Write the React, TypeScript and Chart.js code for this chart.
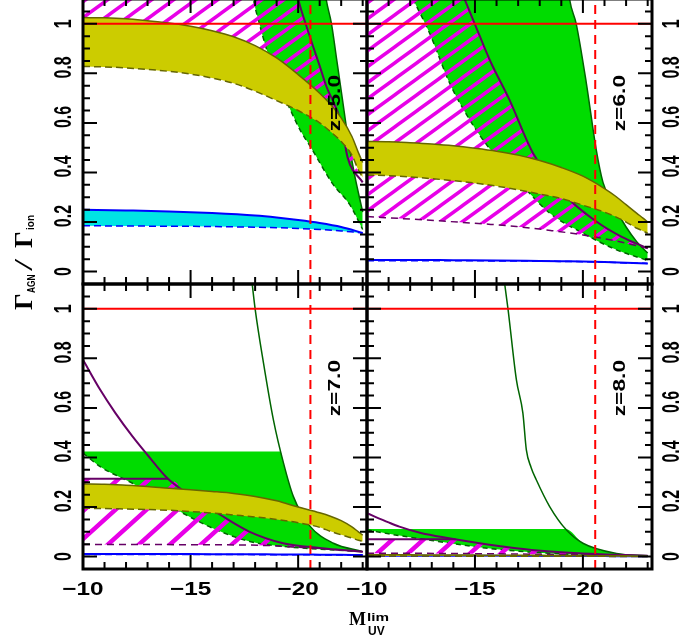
import { useEffect, useRef } from 'react';
import { Chart, registerables } from 'chart.js';

Chart.register(...registerables);

// ---------------- axes ----------------
const X_MIN = -23.2;
const X_MAX = -10;
const Y_MIN = -0.05;
const Y_MAX = 1.1;
const X_MINOR_TICKS = [-10, -11, -12, -13, -14, -15, -16, -17, -18, -19, -20, -21, -22, -23];
const X_MAJOR_TICKS = [-10, -15, -20];
const X_TICK_LABELS = ['\u221210', '\u221215', '\u221220'];
const Y_MINOR_TICKS = [0, 0.05, 0.1, 0.15, 0.2, 0.25, 0.3, 0.35, 0.4, 0.45, 0.5, 0.55, 0.6, 0.65, 0.7, 0.75, 0.8, 0.85, 0.9, 0.95, 1, 1.05];
const Y_MAJOR_TICKS = [0, 0.2, 0.4, 0.6, 0.8, 1];
const Y_TICK_LABELS = ['0', '0.2', '0.4', '0.6', '0.8', '1'];
const REDSHIFT_LABELS = ['z=5.0', 'z=6.0', 'z=7.0', 'z=8.0'];

// reference lines
const UNITY_X = [-10, -23.2];
const UNITY_Y = [1, 1];
const MLIM_X = [-20.57, -20.57];
const MLIM_Y = [-0.05, 1.1];

// ---------------- olive bands ----------------
const BAND_X = [-10, -11, -12, -13, -14, -15, -16, -17, -18, -19, -20, -21, -21.5, -22, -22.5, -22.8, -23];
const Z5_OLIVE_HI = [1.025, 1.024, 1.02, 1.012, 1.003, 0.99, 0.972, 0.948, 0.912, 0.862, 0.795, 0.72, 0.675, 0.62, 0.545, 0.48, 0.44];
const Z5_OLIVE_LO = [0.828, 0.826, 0.822, 0.816, 0.808, 0.797, 0.781, 0.76, 0.728, 0.69, 0.65, 0.6, 0.565, 0.525, 0.47, 0.41, 0.38];
const Z6_OLIVE_HI = [0.525, 0.524, 0.52, 0.515, 0.508, 0.498, 0.486, 0.47, 0.448, 0.42, 0.385, 0.335, 0.305, 0.27, 0.235, 0.215, 0.2];
const Z6_OLIVE_LO = [0.39, 0.387, 0.382, 0.375, 0.367, 0.357, 0.345, 0.33, 0.313, 0.295, 0.268, 0.24, 0.222, 0.2, 0.175, 0.163, 0.155];
const Z7_OLIVE_HI = [0.293, 0.292, 0.288, 0.283, 0.276, 0.27, 0.263, 0.255, 0.243, 0.225, 0.2, 0.177, 0.163, 0.145, 0.12, 0.1, 0.087];
const Z7_OLIVE_LO = [0.195, 0.194, 0.192, 0.19, 0.187, 0.182, 0.176, 0.168, 0.16, 0.15, 0.137, 0.118, 0.102, 0.088, 0.075, 0.066, 0.061];
const Z8_OLIVE_HI = [0.007, 0.007, 0.007, 0.006, 0.006, 0.006, 0.005, 0.005, 0.005, 0.004, 0.004, 0.003, 0.003, 0.003, 0.002, 0.002, 0.002];
const Z8_OLIVE_LO = [0.002, 0.002, 0.002, 0.002, 0.002, 0.001, 0.001, 0.001, 0.001, 0.001, 0.001, 0.001, 0, 0, 0, 0, 0];
const Z5_HATCH_LO = [0.93, 0.925, 0.92, 0.914, 0.905, 0.893, 0.876, 0.854, 0.82, 0.776, 0.72, 0.66, 0.62, 0.57, 0.48, 0.4, 0.36];

// ---------------- blue / cyan bands ----------------
const BLUE_X = [-10, -12, -14, -16, -18, -19, -20, -21, -22, -23];
const Z5_BLUE_HI = [0.25, 0.247, 0.243, 0.236, 0.226, 0.218, 0.208, 0.196, 0.18, 0.156];
const Z5_BLUE_LO = [0.185, 0.184, 0.183, 0.182, 0.179, 0.177, 0.174, 0.17, 0.164, 0.156];
const Z6_BLUE_HI = [0.047, 0.047, 0.046, 0.045, 0.043, 0.042, 0.041, 0.039, 0.036, 0.033];
const Z6_BLUE_LO = [0.044, 0.044, 0.044, 0.043, 0.042, 0.041, 0.04, 0.038, 0.035, 0.033];
const Z7_BLUE_HI = [0.011, 0.011, 0.011, 0.01, 0.01, 0.009, 0.009, 0.008, 0.007, 0.006];
const Z7_BLUE_LO = [0.009, 0.009, 0.009, 0.009, 0.008, 0.008, 0.008, 0.007, 0.006, 0.006];
const Z8_BLUE_HI = [0.003, 0.003, 0.003, 0.003, 0.002, 0.002, 0.002, 0.002, 0.001, 0.001];
const Z8_BLUE_LO = [0.002, 0.002, 0.002, 0.002, 0.002, 0.002, 0.001, 0.001, 0.001, 0.001];

// ---------------- z = 5 ----------------
const Z5_GREEN_HI_X = [-17.75, -21.15, -21.3, -21.55, -21.8, -22.05, -22.3, -22.6, -23];
const Z5_GREEN_HI_Y = [1.2, 1.2, 1.1, 1.0, 0.85, 0.7, 0.55, 0.4, 0.24];
const Z5_GREEN_LO_X = [-17.75, -17.92, -18.2, -18.54, -19.0, -19.6, -20.1, -20.6, -21.6, -22.4, -23];
const Z5_GREEN_LO_Y = [1.2, 1.1, 1.0, 0.895, 0.78, 0.66, 0.57, 0.5, 0.355, 0.27, 0.17];
const Z5_PURPLE_X = [-10, -19.75, -20.0, -20.5, -21.0, -21.3, -22.0, -22.3, -23];
const Z5_PURPLE_Y = [1.2, 1.2, 1.1, 0.96, 0.83, 0.75, 0.6, 0.46, 0.36];

// ---------------- z = 6 ----------------
const Z6_GREEN_HI_X = [-11.6, -19.25, -19.38, -19.69, -20.16, -20.62, -20.93, -21.4, -22.0, -22.5, -23];
const Z6_GREEN_HI_Y = [1.2, 1.2, 1.1, 1.0, 0.76, 0.49, 0.36, 0.27, 0.18, 0.12, 0.075];
const Z6_GREEN_LO_X = [-11.6, -12.13, -12.9, -13.83, -14.76, -15.6, -16.5, -17.38, -18.46, -20.0, -21.5, -23];
const Z6_GREEN_LO_Y = [1.2, 1.1, 0.962, 0.76, 0.612, 0.505, 0.415, 0.33, 0.236, 0.155, 0.09, 0.045];
const Z6_PURPLE_X = [-10, -14.05, -14.52, -14.99, -15.68, -16.6, -17.69, -19.23, -20.62, -21.8, -23];
const Z6_PURPLE_Y = [1.2, 1.2, 1.1, 1.0, 0.855, 0.693, 0.478, 0.303, 0.202, 0.14, 0.094];
const Z6_PURPLE_LO_X = [-10, -12, -13.83, -15.5, -16.92, -18.5, -20.0, -21.5, -23];
const Z6_PURPLE_LO_Y = [0.222, 0.212, 0.202, 0.192, 0.182, 0.166, 0.148, 0.124, 0.094];

// ---------------- z = 7 ----------------
const Z7_GREEN_HI_X = [-10, -19.17, -19.32, -19.78, -20.56, -21.64, -23];
const Z7_GREEN_HI_Y = [0.424, 0.424, 0.377, 0.242, 0.122, 0.054, 0.02];
const Z7_GREEN_EDGE_X = [-17.8, -18.0, -18.39, -18.85, -19.32, -19.78, -20.56, -21.64, -23];
const Z7_GREEN_EDGE_Y = [1.15, 1.0, 0.781, 0.552, 0.377, 0.242, 0.122, 0.054, 0.02];
const Z7_GREEN_LO_X = [-10, -10.8, -12.3, -13.5, -14.65, -16.2, -17.75, -19.3, -21, -23];
const Z7_GREEN_LO_Y = [0.418, 0.363, 0.296, 0.235, 0.175, 0.108, 0.061, 0.041, 0.03, 0.02];
const Z7_PURPLE_X = [-10, -10.8, -11.5, -12.3, -13.0, -13.9, -15.0, -15.6, -16.2, -17.75, -19.3, -21, -23];
const Z7_PURPLE_Y = [0.794, 0.673, 0.58, 0.485, 0.41, 0.318, 0.245, 0.21, 0.178, 0.1, 0.054, 0.035, 0.02];
const Z7_PURPLE_FLAT_X = [-10, -13.95];
const Z7_PURPLE_FLAT_Y = [0.314, 0.314];
const Z7_HATCH_HI_X = [-10, -13.95, -15.0, -15.6, -16.2, -17.75, -19.3, -21, -23];
const Z7_HATCH_HI_Y = [0.314, 0.314, 0.245, 0.21, 0.178, 0.1, 0.054, 0.035, 0.02];
const Z7_PURPLE_LO_X = [-10, -15, -18.5, -20, -21.5, -23];
const Z7_PURPLE_LO_Y = [0.049, 0.048, 0.045, 0.038, 0.03, 0.02];

// ---------------- z = 8 ----------------
const Z8_GREEN_HI_X = [-10, -19.2, -20.0, -21.55, -23];
const Z8_GREEN_HI_Y = [0.111, 0.111, 0.054, 0.013, 0.003];
const Z8_GREEN_EDGE_X = [-16.3, -16.53, -16.92, -17.22, -17.38, -17.6, -17.84, -18.46, -19.23, -20.0, -21.55, -23];
const Z8_GREEN_EDGE_Y = [1.15, 1.0, 0.713, 0.579, 0.431, 0.36, 0.31, 0.202, 0.108, 0.054, 0.013, 0.003];
const Z8_GREEN_LO_X = [-10, -11, -12, -13, -14, -15, -16, -17, -18.5, -20, -23];
const Z8_GREEN_LO_Y = [0.108, 0.092, 0.078, 0.065, 0.052, 0.04, 0.03, 0.022, 0.013, 0.008, 0.002];
const Z8_PURPLE_X = [-10, -11, -11.5, -12.5, -13.8, -15, -16.9, -18.5, -20, -23];
const Z8_PURPLE_Y = [0.175, 0.138, 0.121, 0.095, 0.074, 0.057, 0.034, 0.021, 0.013, 0.003];
const Z8_PURPLE_FLAT_X = [-10, -14.1];
const Z8_PURPLE_FLAT_Y = [0.07, 0.07];
const Z8_HATCH_HI_X = [-10, -14.1, -15, -16.9, -18.5, -20, -23];
const Z8_HATCH_HI_Y = [0.07, 0.07, 0.057, 0.034, 0.021, 0.013, 0.003];
const Z8_PURPLE_LO_X = [-10, -15, -20, -23];
const Z8_PURPLE_LO_Y = [0.014, 0.012, 0.007, 0.002];

// ---------------- styles ----------------
const NONE = 'rgba(0,0,0,0)';
const GREEN = '#00dc00';
const DKGREEN = '#006400';
const MAGENTA = '#e800e8';
const PURPLE = '#660066';
const OLIVE = '#cccc00';
const DKOLIVE = '#666600';
const CYAN = '#00e4e4';
const BLUE = '#0000ff';
const RED = '#ff0000';
const SANS = "'Liberation Sans', Arial, sans-serif";
const SERIF = "'Liberation Serif', 'Times New Roman', serif";
const OFF = 2; // canvas is shifted 2px above the page top

type Pt = { x: number; y: number };
const pts = (xs: number[], ys: number[]): Pt[] => xs.map((x, i) => ({ x, y: ys[i] }));

interface PanelData {
  greenHi: Pt[]; greenHiBorder: boolean; greenLo: Pt[]; greenEdge?: Pt[];
  hatchHi: Pt[]; hatchHiBorder: boolean; hatchLo: Pt[]; hatchLoBorder: boolean;
  purple?: Pt[]; purpleFlat?: Pt[];
  blueHi: Pt[]; blueLo: Pt[]; oliveHi: Pt[]; oliveLo: Pt[];
}

const PANEL_DATA: PanelData[] = [
  {
    greenHi: pts(Z5_GREEN_HI_X, Z5_GREEN_HI_Y), greenHiBorder: true, greenLo: pts(Z5_GREEN_LO_X, Z5_GREEN_LO_Y),
    hatchHi: pts(Z5_PURPLE_X, Z5_PURPLE_Y), hatchHiBorder: true, hatchLo: pts(BAND_X, Z5_HATCH_LO), hatchLoBorder: false,
    blueHi: pts(BLUE_X, Z5_BLUE_HI), blueLo: pts(BLUE_X, Z5_BLUE_LO),
    oliveHi: pts(BAND_X, Z5_OLIVE_HI), oliveLo: pts(BAND_X, Z5_OLIVE_LO),
  },
  {
    greenHi: pts(Z6_GREEN_HI_X, Z6_GREEN_HI_Y), greenHiBorder: true, greenLo: pts(Z6_GREEN_LO_X, Z6_GREEN_LO_Y),
    hatchHi: pts(Z6_PURPLE_X, Z6_PURPLE_Y), hatchHiBorder: true, hatchLo: pts(Z6_PURPLE_LO_X, Z6_PURPLE_LO_Y), hatchLoBorder: true,
    blueHi: pts(BLUE_X, Z6_BLUE_HI), blueLo: pts(BLUE_X, Z6_BLUE_LO),
    oliveHi: pts(BAND_X, Z6_OLIVE_HI), oliveLo: pts(BAND_X, Z6_OLIVE_LO),
  },
  {
    greenHi: pts(Z7_GREEN_HI_X, Z7_GREEN_HI_Y), greenHiBorder: false, greenLo: pts(Z7_GREEN_LO_X, Z7_GREEN_LO_Y),
    greenEdge: pts(Z7_GREEN_EDGE_X, Z7_GREEN_EDGE_Y),
    hatchHi: pts(Z7_HATCH_HI_X, Z7_HATCH_HI_Y), hatchHiBorder: false, hatchLo: pts(Z7_PURPLE_LO_X, Z7_PURPLE_LO_Y), hatchLoBorder: true,
    purple: pts(Z7_PURPLE_X, Z7_PURPLE_Y), purpleFlat: pts(Z7_PURPLE_FLAT_X, Z7_PURPLE_FLAT_Y),
    blueHi: pts(BLUE_X, Z7_BLUE_HI), blueLo: pts(BLUE_X, Z7_BLUE_LO),
    oliveHi: pts(BAND_X, Z7_OLIVE_HI), oliveLo: pts(BAND_X, Z7_OLIVE_LO),
  },
  {
    greenHi: pts(Z8_GREEN_HI_X, Z8_GREEN_HI_Y), greenHiBorder: false, greenLo: pts(Z8_GREEN_LO_X, Z8_GREEN_LO_Y),
    greenEdge: pts(Z8_GREEN_EDGE_X, Z8_GREEN_EDGE_Y),
    hatchHi: pts(Z8_HATCH_HI_X, Z8_HATCH_HI_Y), hatchHiBorder: false, hatchLo: pts(Z8_PURPLE_LO_X, Z8_PURPLE_LO_Y), hatchLoBorder: true,
    purple: pts(Z8_PURPLE_X, Z8_PURPLE_Y), purpleFlat: pts(Z8_PURPLE_FLAT_X, Z8_PURPLE_FLAT_Y),
    blueHi: pts(BLUE_X, Z8_BLUE_HI), blueLo: pts(BLUE_X, Z8_BLUE_LO),
    oliveHi: pts(BAND_X, Z8_OLIVE_HI), oliveLo: pts(BAND_X, Z8_OLIVE_LO),
  },
];

interface Layout { left: number; right: number; top: number; bottom: number; isLeft: boolean; isBottom: boolean; titles: boolean; hw: number; hh: number; hl: number }
// canvas coordinates (canvas is 700x644, placed at page y = -2)
const LAYOUTS: Layout[] = [
  { left: 83, right: 367, top: 1, bottom: 286, isLeft: true, isBottom: false, titles: false, hw: 22, hh: 16, hl: 3.5 },
  { left: 367, right: 652, top: 1, bottom: 286, isLeft: false, isBottom: false, titles: false, hw: 22, hh: 16, hl: 3.5 },
  { left: 83, right: 367, top: 286, bottom: 571, isLeft: true, isBottom: true, titles: true, hw: 31, hh: 28, hl: 4.5 },
  { left: 367, right: 652, top: 286, bottom: 571, isLeft: false, isBottom: true, titles: false, hw: 31, hh: 28, hl: 4.5 },
];

function makeHatch(w: number, h: number, lw: number): CanvasPattern | string {
  const c = document.createElement('canvas');
  c.width = w; c.height = h;
  const g = c.getContext('2d');
  if (!g) return MAGENTA;
  g.strokeStyle = MAGENTA; g.lineWidth = lw;
  g.beginPath();
  for (const k of [-1, 0, 1, 2]) {
    g.moveTo(-w, (k + 1) * h);
    g.lineTo(2 * w, (k - 2) * h);
  }
  g.stroke();
  return g.createPattern(c, 'repeat') || MAGENTA;
}

function line(data: Pt[], o: { color?: string; width?: number; dash?: number[]; fill?: number; bg?: any; order: number; straight?: boolean }) {
  return {
    data,
    borderColor: o.color ?? NONE,
    borderWidth: o.width ?? 1,
    borderDash: o.dash ?? [],
    backgroundColor: o.bg ?? NONE,
    fill: o.fill === undefined ? false : o.fill,
    pointRadius: 0,
    pointHoverRadius: 0,
    cubicInterpolationMode: o.straight ? 'default' : 'monotone',
    tension: 0,
    order: o.order,
  };
}

function buildDatasets(d: PanelData, hatch: any) {
  const list: any[] = [];
  const add = (o: any) => { list.push(o); return list.length - 1; };
  const gLo = add(line(d.greenLo, { color: DKGREEN, width: 1.5, dash: [5, 4], order: 99 }));
  add(line(d.greenHi, { color: d.greenHiBorder ? DKGREEN : NONE, width: 1.5, fill: gLo, bg: GREEN, order: 100 }));
  if (d.greenEdge) add(line(d.greenEdge, { color: DKGREEN, width: 1.5, order: 98 }));
  const hLo = add(line(d.hatchLo, { color: d.hatchLoBorder ? PURPLE : NONE, width: 1.5, dash: [7, 5], order: 89 }));
  add(line(d.hatchHi, { color: d.hatchHiBorder ? PURPLE : NONE, width: 2, fill: hLo, bg: hatch, order: 90 }));
  if (d.purple) add(line(d.purple, { color: PURPLE, width: 2, order: 88 }));
  if (d.purpleFlat) add(line(d.purpleFlat, { color: PURPLE, width: 2, order: 87, straight: true }));
  const bLo = add(line(d.blueLo, { color: BLUE, width: 1.5, dash: [7, 4], order: 79 }));
  add(line(d.blueHi, { color: BLUE, width: 2, fill: bLo, bg: CYAN, order: 80 }));
  const oLo = add(line(d.oliveLo, { color: DKOLIVE, width: 1.5, dash: [7, 4], order: 69 }));
  add(line(d.oliveHi, { color: DKOLIVE, width: 1.5, fill: oLo, bg: OLIVE, order: 70 }));
  add(line(pts(UNITY_X, UNITY_Y), { color: RED, width: 2, order: 60, straight: true }));
  add(line(pts(MLIM_X, MLIM_Y), { color: RED, width: 2, dash: [9, 6], order: 59, straight: true }));
  return list;
}

function txt(ctx: CanvasRenderingContext2D, s: string, x: number, y: number, font: string, rot: number, sx: number, sy: number, align: CanvasTextAlign, base: CanvasTextBaseline) {
  ctx.save();
  ctx.translate(x, y);
  if (rot) ctx.rotate(rot);
  ctx.scale(sx, sy);
  ctx.font = font;
  ctx.textAlign = align;
  ctx.textBaseline = base;
  ctx.fillStyle = '#000';
  ctx.fillText(s, 0, 0);
  ctx.restore();
}

function framePlugin(lay: Layout, zLabel: string) {
  return {
    id: 'frameTicks',
    afterDraw(chart: any) {
      const { ctx, chartArea: a, scales } = chart;
      const xs = scales.x;
      const ys = scales.y;
      const R = -Math.PI / 2;
      ctx.save();
      ctx.strokeStyle = '#000';
      ctx.lineWidth = 2;
      ctx.beginPath();
      for (const v of X_MINOR_TICKS) {
        const px = xs.getPixelForValue(v);
        const len = X_MAJOR_TICKS.includes(v) ? 14 : 7;
        ctx.moveTo(px, a.bottom); ctx.lineTo(px, a.bottom - len);
        ctx.moveTo(px, a.top); ctx.lineTo(px, a.top + len);
      }
      for (const v of Y_MINOR_TICKS) {
        const py = ys.getPixelForValue(v);
        const len = Y_MAJOR_TICKS.includes(v) ? 14 : 7;
        ctx.moveTo(a.left, py); ctx.lineTo(a.left + len, py);
        ctx.moveTo(a.right, py); ctx.lineTo(a.right - len, py);
      }
      ctx.stroke();
      ctx.lineWidth = 3;
      ctx.strokeRect(a.left, a.top, a.right - a.left, a.bottom - a.top);

      // y tick labels
      Y_MAJOR_TICKS.forEach((v, i) => {
        const lab = Y_TICK_LABELS[i];
        const py = ys.getPixelForValue(v) - (lab.length > 1 ? 6 : 0);
        const cx = lay.isLeft ? a.left - 19 : a.right + 20.5;
        txt(ctx, lab, cx, py, `bold 19px ${SANS}`, R, 0.84, 1.3, 'center', 'middle');
      });
      // x tick labels
      if (lay.isBottom) {
        X_MAJOR_TICKS.forEach((v, i) => {
          txt(ctx, X_TICK_LABELS[i], xs.getPixelForValue(v), a.bottom + 21, `bold 19px ${SANS}`, 0, 1.28, 0.98, 'center', 'middle');
        });
      }
      // redshift label
      txt(ctx, zLabel, xs.getPixelForValue(-21.73), ys.getPixelForValue(0.68), `bold 19px ${SANS}`, R, 1.2, 0.9, 'center', 'middle');

      if (lay.titles) {
        // y title: Gamma_AGN / Gamma_ion
        txt(ctx, '\u0393', 32, 310 + OFF, `bold 26px ${SERIF}`, R, 1, 1, 'left', 'alphabetic');
        txt(ctx, 'AGN', 35, 293 + OFF, `bold 11px ${SANS}`, R, 0.76, 1.05, 'left', 'alphabetic');
        txt(ctx, '/', 32, 271 + OFF, `26px ${SERIF}`, R, 1.7, 1, 'left', 'alphabetic');
        txt(ctx, '\u0393', 32, 248 + OFF, `bold 26px ${SERIF}`, R, 1, 1, 'left', 'alphabetic');
        txt(ctx, 'ion', 34, 230 + OFF, `bold 11px ${SANS}`, R, 0.92, 1.05, 'left', 'alphabetic');
        // x title: M_UV^lim
        txt(ctx, 'M', 349, 625 + OFF, `bold 18px ${SERIF}`, 0, 1.0, 1, 'left', 'alphabetic');
        txt(ctx, 'lim', 367, 621 + OFF, `bold 10.5px ${SANS}`, 0, 1.45, 1, 'left', 'alphabetic');
        txt(ctx, 'UV', 368, 635 + OFF, `bold 12px ${SANS}`, 0, 1.0, 1, 'left', 'alphabetic');
      }
      ctx.restore();
    },
  };
}

export default function App() {
  const r0 = useRef<HTMLCanvasElement>(null);
  const r1 = useRef<HTMLCanvasElement>(null);
  const r2 = useRef<HTMLCanvasElement>(null);
  const r3 = useRef<HTMLCanvasElement>(null);

  useEffect(() => {
    const refs = [r0, r1, r2, r3];
    const charts: Chart[] = [];
    LAYOUTS.forEach((lay, i) => {
      const cv = refs[i].current;
      if (!cv) return;
      const hatch = makeHatch(lay.hw, lay.hh, lay.hl);
      const cfg: any = {
        type: 'line',
        data: { datasets: buildDatasets(PANEL_DATA[i], hatch) },
        options: {
          animation: false,
          responsive: false,
          maintainAspectRatio: false,
          events: [],
          layout: { padding: { left: lay.left, right: 700 - lay.right, top: lay.top, bottom: 644 - lay.bottom } },
          elements: { line: { capBezierPoints: false }, point: { radius: 0 } },
          plugins: { legend: { display: false }, tooltip: { enabled: false }, title: { display: false } },
          scales: {
            x: { type: 'linear', min: X_MIN, max: X_MAX, reverse: true, display: false },
            y: { type: 'linear', min: Y_MIN, max: Y_MAX, display: false },
          },
        },
        plugins: [framePlugin(lay, REDSHIFT_LABELS[i])],
      };
      charts.push(new Chart(cv, cfg));
    });
    return () => charts.forEach((c) => c.destroy());
  }, []);

  const cs: any = { position: 'absolute', left: 0, top: -OFF, width: 700, height: 644 };
  return (
    <div style={{ position: 'fixed', left: 0, top: 0, width: 700, height: 642, overflow: 'hidden', background: '#fff' }}>
      <canvas ref={r0} width={700} height={644} style={cs} />
      <canvas ref={r1} width={700} height={644} style={cs} />
      <canvas ref={r2} width={700} height={644} style={cs} />
      <canvas ref={r3} width={700} height={644} style={cs} />
    </div>
  );
}
